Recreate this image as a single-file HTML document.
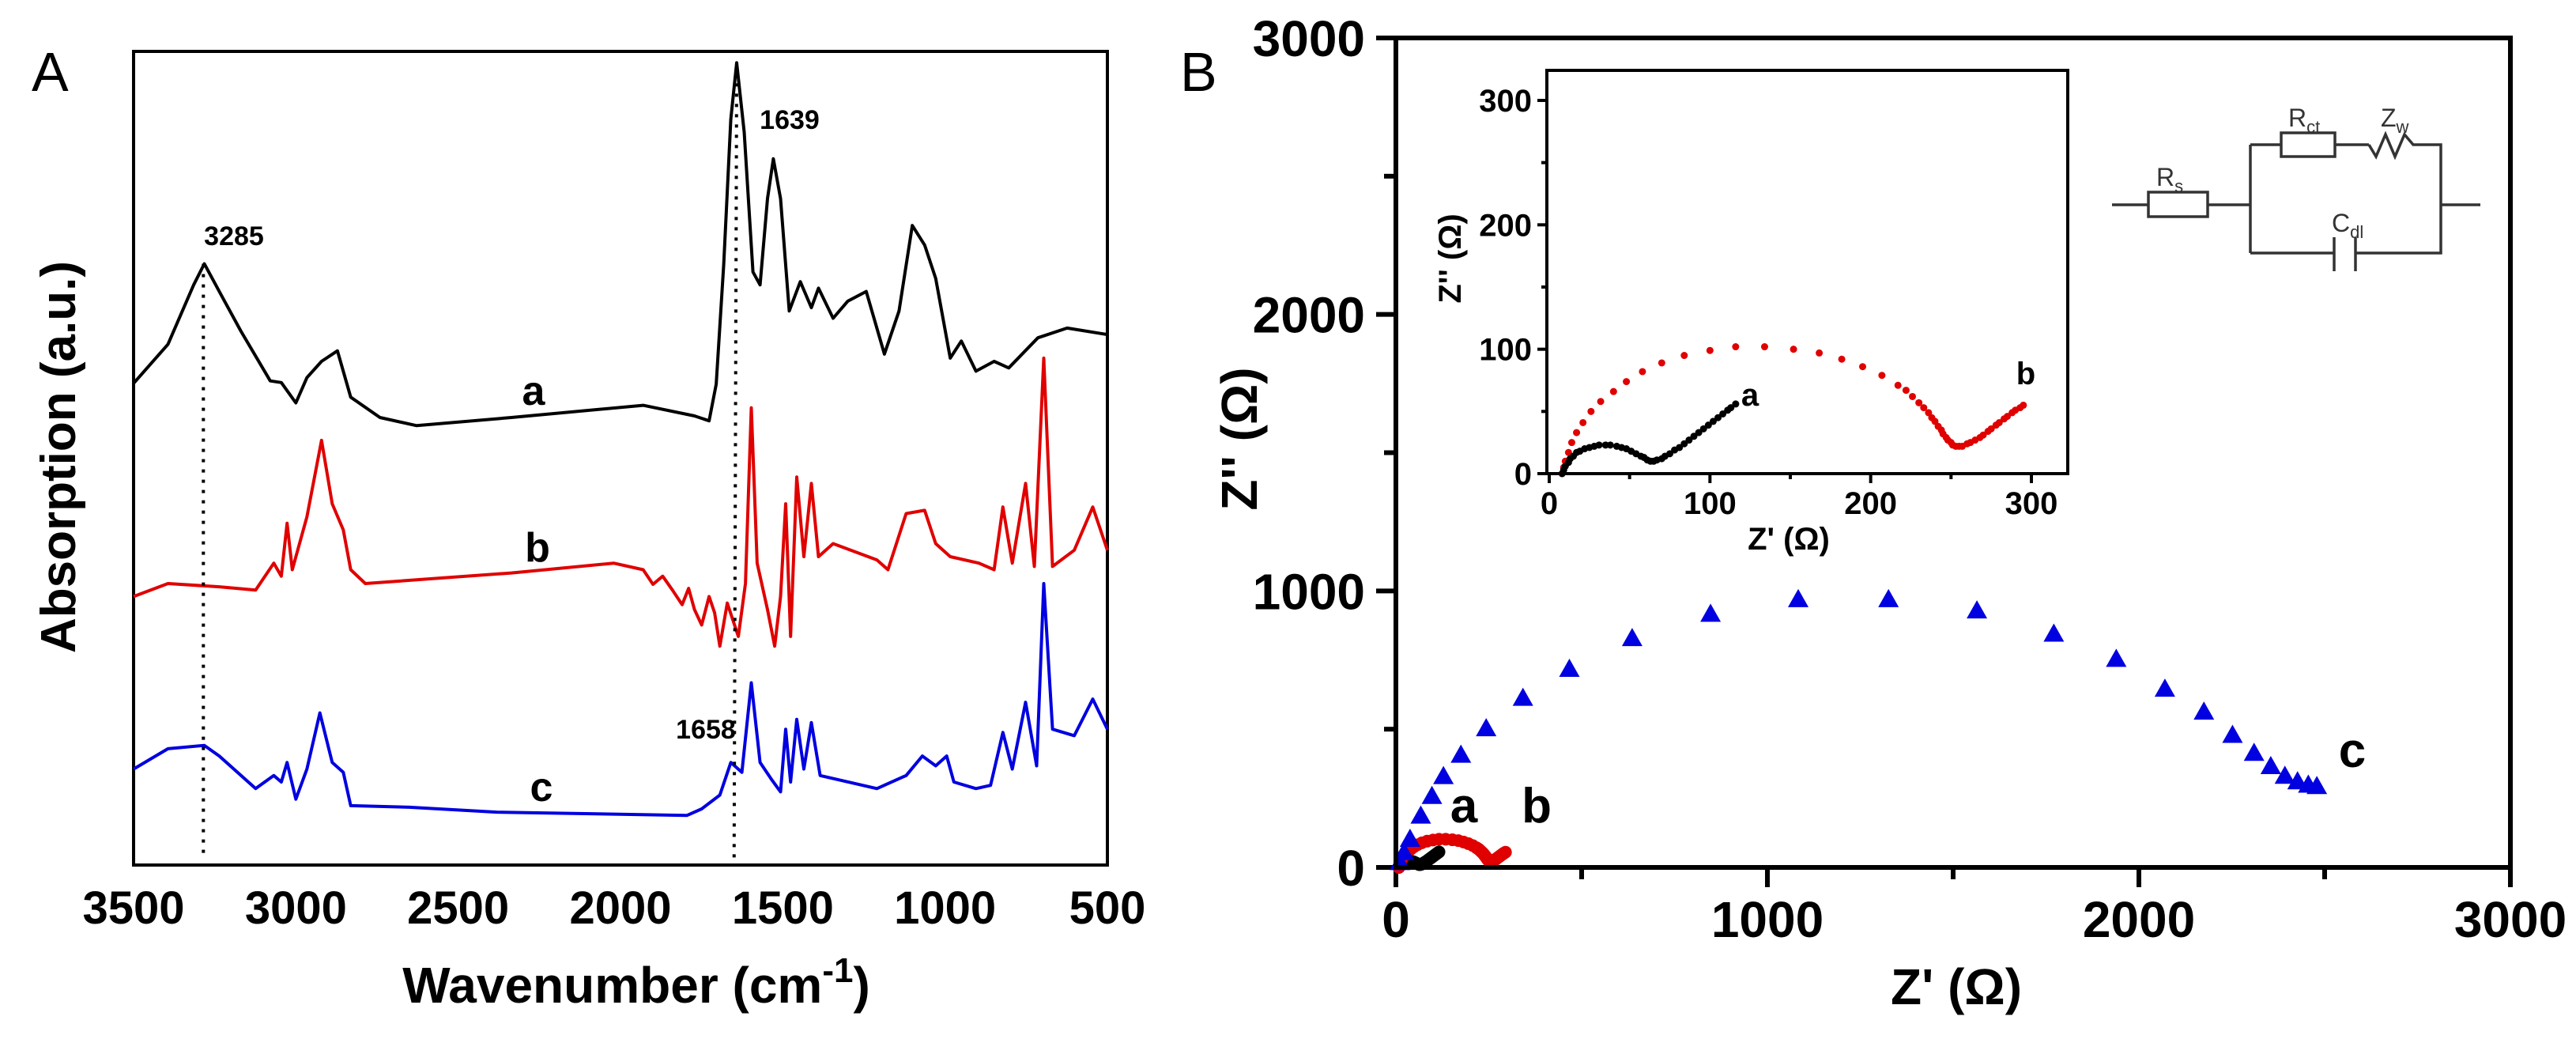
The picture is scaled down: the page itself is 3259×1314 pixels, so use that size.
<!DOCTYPE html>
<html><head><meta charset="utf-8">
<style>
html,body{margin:0;padding:0;background:#fff;}
svg{display:block;font-family:"Liberation Sans",Arial,sans-serif;}
.b{font-weight:bold;}
</style></head>
<body>
<svg id="fig" width="3259" height="1314" viewBox="0 0 3259 1314" xmlns="http://www.w3.org/2000/svg">
  <rect width="3259" height="1314" fill="#fff"/>
  <g id="panelA">
    <text x="40" y="115" font-size="70">A</text>
    <rect x="169" y="65" width="1232" height="1029" fill="none" stroke="#000" stroke-width="4"/>
    <g id="aTicks"></g>
    <g id="aLines"></g>
    <text x="805" y="1268" font-size="64" class="b" text-anchor="middle">Wavenumber (cm<tspan dy="-26" font-size="44">-1</tspan><tspan dy="26">)</tspan></text>
    <text transform="translate(95,578) rotate(-90)" font-size="62" class="b" text-anchor="middle">Absorption (a.u.)</text>
    <text x="296" y="310" font-size="34" class="b" text-anchor="middle">3285</text>
    <text x="999" y="163" font-size="34" class="b" text-anchor="middle">1639</text>
    <text x="893" y="934" font-size="34" class="b" text-anchor="middle">1658</text>
    <text x="675" y="512" font-size="52" class="b" text-anchor="middle">a</text>
    <text x="680" y="710" font-size="52" class="b" text-anchor="middle">b</text>
    <text x="685" y="1013" font-size="52" class="b" text-anchor="middle">c</text>
  </g>
  <g id="panelB">
    <text x="1493" y="115" font-size="70">B</text>
    <g id="bTicks"></g>
    <g id="bMarks"></g>
    <rect x="1766" y="48" width="1410" height="1049" fill="none" stroke="#000" stroke-width="6"/>
    <text x="2475" y="1270" font-size="64" class="b" text-anchor="middle">Z' (Ω)</text>
    <text transform="translate(1590,555) rotate(-90)" font-size="64" class="b" text-anchor="middle">Z'' (Ω)</text>
    <text x="1852" y="1040" font-size="62" class="b" text-anchor="middle">a</text>
    <text x="1944" y="1040" font-size="62" class="b" text-anchor="middle">b</text>
    <text x="2976" y="970" font-size="62" class="b" text-anchor="middle">c</text>
    <g id="inset">
      <rect x="1957" y="89" width="659" height="510" fill="#fff" stroke="#000" stroke-width="4"/>
      <g id="iTicks"></g>
      <g id="iMarks"></g>
      <text x="2263" y="695" font-size="40" class="b" text-anchor="middle">Z' (Ω)</text>
      <text transform="translate(1848,327) rotate(-90)" font-size="40" class="b" text-anchor="middle">Z'' (Ω)</text>
      <text x="2214" y="513" font-size="40" class="b" text-anchor="middle">a</text>
      <text x="2563" y="486" font-size="40" class="b" text-anchor="middle">b</text>
    </g>
    <g id="circuit" fill="none" stroke="#333" stroke-width="3.5">
      <path d="M2672 259 H2718 M2793 259 H2847 M2847 183 V320 M2847 183 H2886 M2954 183 H2997 M2997 183 L3006 198 L3018 170 L3030 198 L3042 170 L3053 183 H3088 V320 H2980 M2953 320 H2847 M3088 259 H3138 M2953 300 V343 M2980 300 V343"/>
      <rect x="2718" y="243" width="75" height="31"/>
      <rect x="2886" y="168" width="68" height="30"/>
      <g fill="#333" stroke="none" font-size="32">
        <text x="2728" y="235">R<tspan font-size="22" dy="8">s</tspan></text>
        <text x="2895" y="160">R<tspan font-size="22" dy="8">ct</tspan></text>
        <text x="3012" y="160">Z<tspan font-size="22" dy="8">w</tspan></text>
        <text x="2950" y="293">C<tspan font-size="22" dy="8">dl</tspan></text>
      </g>
    </g>
  </g>
</svg>
<script>
// ---------- Panel A data (wavenumber cm-1, absorption a.u. 0-100) ----------
const wnA = [3500,3394,3315,3282,3236,3169,3079,3045,3000,2966,2921,2872,2831,2741,2628,2336,1930,1772,1727,1705,1682,1660,1642,1619,1592,1570,1547,1529,1507,1480,1446,1412,1390,1345,1300,1243,1187,1142,1101,1063,1029,984,950,905,849,804,714,624,500];
const absA = [59.2,64.0,71.3,73.9,70.5,65.6,59.5,59.3,56.8,59.9,61.9,63.2,57.5,55.0,54.0,55.0,56.5,55.2,54.6,59.1,73.8,91.7,98.6,90.1,72.9,71.3,81.9,86.8,81.9,68.1,71.7,68.5,70.9,67.2,69.3,70.5,62.8,68.1,78.6,76.2,72.1,62.3,64.4,60.7,61.9,61.1,64.8,66.0,65.2];
const wnB = [3500,3394,3236,3124,3068,3045,3027,3011,2966,2921,2888,2854,2831,2786,2336,2021,1930,1900,1870,1840,1810,1790,1772,1750,1727,1710,1694,1671,1637,1615,1597,1579,1547,1525,1507,1491,1476,1457,1435,1412,1390,1345,1210,1176,1120,1063,1029,984,896,849,822,793,752,725,696,669,602,545,500];
const absB = [33.0,34.6,34.2,33.8,37.1,35.5,42.0,36.3,42.8,52.2,44.4,41.2,36.3,34.6,35.9,37.1,36.3,34.5,35.5,33.8,32.0,34.0,31.4,29.5,33.0,31.0,26.9,32.2,28.1,34.6,56.2,37.1,31.4,26.9,33.0,44.4,28.1,47.7,37.9,46.9,37.9,39.5,37.5,36.3,43.2,43.6,39.5,37.9,37.1,36.3,44.0,37.1,46.9,36.7,62.3,36.7,38.7,44.0,38.7];
const wnC = [3500,3394,3282,3236,3124,3068,3045,3027,3000,2966,2926,2888,2854,2831,2651,2381,1795,1750,1694,1660,1626,1597,1570,1536,1507,1491,1476,1457,1435,1412,1385,1210,1120,1070,1029,995,973,905,860,822,793,752,718,696,669,602,545,500];
const absC = [11.8,14.3,14.7,13.4,9.4,11.0,10.2,12.6,8.1,11.8,18.7,12.6,11.4,7.3,7.1,6.5,6.1,6.9,8.6,12.6,11.4,22.4,12.6,10.6,9.0,16.7,10.2,17.9,11.8,17.5,11.0,9.4,11.0,13.4,12.2,13.4,10.2,9.4,9.8,16.3,11.8,20.0,12.2,34.6,16.7,15.9,20.4,16.7];
const xTicksA = [3500,3000,2500,2000,1500,1000,500];
const dropWn = [[3285,3285],[1642,1650]];
const dropAbs = [[73.9,1.5],[98.6,0.5]];

// ---------- Panel B data (Ohm) ----------
const zReC = [11,22,38,67,97,128,175,243,342,467,636,847,1083,1326,1564,1771,1939,2070,2175,2252,2310,2355,2393,2427,2456,2479];
const zImC = [19,55,103,187,258,330,407,503,613,718,829,917,970,970,929,845,754,646,563,479,414,366,331,311,299,294];
const zReB = [8,9,10,12,14,17,21,26,32,40,48,58,70,84,100,116,134,152,168,182,195,207,217,222,226,230,233,236,238,240,242,244,245,247,248,250,251,253,255,257,260,262,265,268,270,273,275,278,280,283,285,288,290,293,295];
const zImB = [0,5,10,17,25,33,41,50,58,66,74,82,89,95,99,102,102,100,97,92,86,79,71,67,62,57,53,49,45,42,38,35,32,29,27,25,23,22,22,22,24,25,27,29,31,34,36,39,41,44,46,49,51,53,55];
const zReA = [8,9,10,12,13,15,17,19,22,25,28,31,35,38,42,45,48,51,54,57,59,61,63,65,67,70,72,75,78,81,84,87,90,93,96,99,102,105,108,111,113,116];
const zImA = [0,3,6,9,12,14,17,18,20,21,22,23,23,23,22,21,20,18,16,14,13,11,10,10,11,12,14,16,19,21,24,27,30,33,36,39,42,45,48,51,53,56];
const bTicks = [0,1000,2000,3000];
const bMinor = [500,1500,2500];
const iTicks = [0,100,200,300];
const iMinor = [50,150,250];

const NS = "http://www.w3.org/2000/svg";
function mk(tag, attrs, parent){const e=document.createElementNS(NS,tag);for(const k in attrs)e.setAttribute(k,attrs[k]);parent.appendChild(e);return e;}

// Panel A axes
const ax = w => 169 + (3500 - w) / 3000 * 1232;
const ay = v => 1094 - v / 100 * 1029;
const aT = document.getElementById('aTicks');
xTicksA.forEach(t=>{
  const tx = mk('text',{x:ax(t),y:1168,'font-size':58,'font-weight':'bold','text-anchor':'middle'},aT);
  tx.textContent = t;
  
  
});
const aL = document.getElementById('aLines');
[[wnA,absA,'#000','spectrum-a'],[wnB,absB,'#e00000','spectrum-b'],[wnC,absC,'#0000e0','spectrum-c']].forEach(s=>{
  const d = s[0].map((w,i)=>(i?'L':'M')+ax(w).toFixed(1)+' '+ay(s[1][i]).toFixed(1)).join(' ');
  const p = mk('path',{d:d,fill:'none',stroke:s[2],'stroke-width':4,'stroke-linejoin':'round'},aL);
  
  
});
dropWn.forEach((w,i)=>{
  const l = mk('line',{x1:ax(w[0]),y1:ay(dropAbs[i][0]),x2:ax(w[1]),y2:ay(dropAbs[i][1]),stroke:'#000','stroke-width':4,'stroke-dasharray':'4 9'},aL);
  
  
});

// Panel B axes
const bx = v => 1766 + v / 3000 * 1410;
const by = v => 1097 - v / 3000 * 1049;
const bT = document.getElementById('bTicks');
bTicks.forEach(t=>{
  const l1 = mk('line',{x1:bx(t),y1:1097,x2:bx(t),y2:1122,stroke:'#000','stroke-width':6},bT);
  
  
  const l2 = mk('line',{x1:1741,y1:by(t),x2:1766,y2:by(t),stroke:'#000','stroke-width':6},bT);
  
  
  const tx = mk('text',{x:bx(t),y:1185,'font-size':64,'font-weight':'bold','text-anchor':'middle'},bT);
  tx.textContent = t;
  
  
  const ty = mk('text',{x:1727,y:by(t)+23,'font-size':64,'font-weight':'bold','text-anchor':'end'},bT);
  ty.textContent = t;
  
  
});
bMinor.forEach(t=>{
  const l1 = mk('line',{x1:bx(t),y1:1097,x2:bx(t),y2:1112,stroke:'#000','stroke-width':6},bT);
  
  
  const l2 = mk('line',{x1:1751,y1:by(t),x2:1766,y2:by(t),stroke:'#000','stroke-width':6},bT);
  
  
});
const bM = document.getElementById('bMarks');
zReA.forEach((v,i)=>{
  const c = mk('circle',{cx:bx(v),cy:by(zImA[i]),r:8,fill:'#000'},bM);
  
  
});
zReB.forEach((v,i)=>{
  const c = mk('circle',{cx:bx(v),cy:by(zImB[i]),r:8,fill:'#e00000'},bM);
  
  
});
zReC.forEach((v,i)=>{
  const x = bx(v), y = by(zImC[i]);
  const p = mk('polygon',{points:`${x},${y-13} ${x-13},${y+10} ${x+13},${y+10}`,fill:'#0000e0'},bM);
  
  
});

// Inset axes
const ix = v => 1960 + v / 300 * 610;
const iy = v => 599 - v / 300 * 472;
const iT = document.getElementById('iTicks');
iTicks.forEach(t=>{
  const l1 = mk('line',{x1:ix(t),y1:599,x2:ix(t),y2:611,stroke:'#000','stroke-width':4},iT);
  
  
  const l2 = mk('line',{x1:1945,y1:iy(t),x2:1957,y2:iy(t),stroke:'#000','stroke-width':4},iT);
  
  
  const tx = mk('text',{x:ix(t),y:650,'font-size':40,'font-weight':'bold','text-anchor':'middle'},iT);
  tx.textContent = t;
  
  
  const ty = mk('text',{x:1938,y:iy(t)+14,'font-size':40,'font-weight':'bold','text-anchor':'end'},iT);
  ty.textContent = t;
  
  
});
iMinor.forEach(t=>{
  const l1 = mk('line',{x1:ix(t),y1:599,x2:ix(t),y2:606,stroke:'#000','stroke-width':4},iT);
  
  
  const l2 = mk('line',{x1:1950,y1:iy(t),x2:1957,y2:iy(t),stroke:'#000','stroke-width':4},iT);
  
  
});
const iM = document.getElementById('iMarks');
zReB.forEach((v,i)=>{
  const c = mk('circle',{cx:ix(v),cy:iy(zImB[i]),r:4.5,fill:'#e00000'},iM);
  
  
});
zReA.forEach((v,i)=>{
  const c = mk('circle',{cx:ix(v),cy:iy(zImA[i]),r:4.5,fill:'#000'},iM);
  
  
});
</script>
</body></html>
